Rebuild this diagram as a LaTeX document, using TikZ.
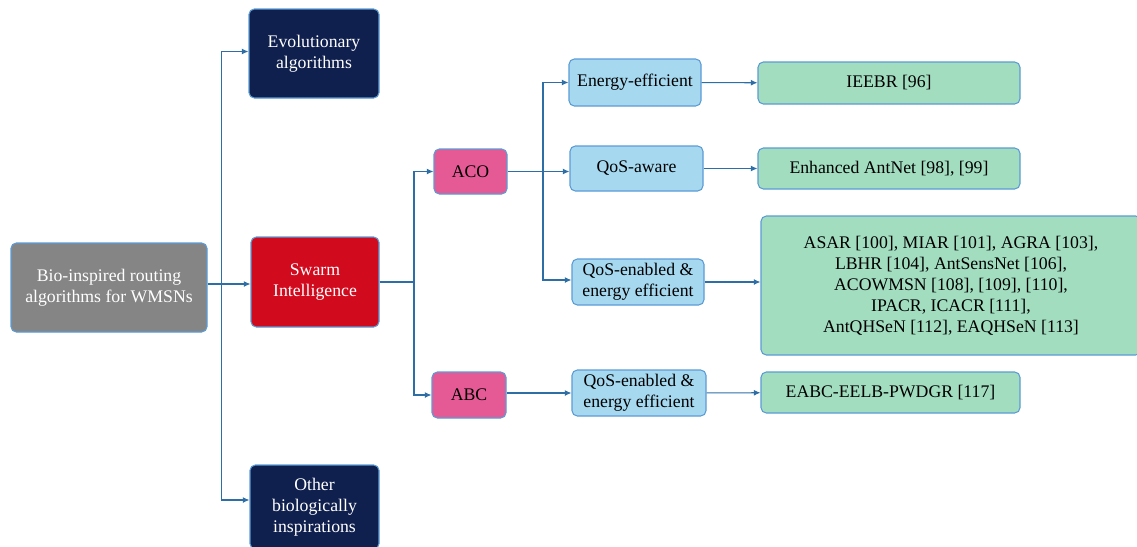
\documentclass[tikz,border=0pt]{standalone}
\usepackage{fontspec}
\setmainfont{Liberation Serif}
\newfontfamily\tnr{Liberation Serif}
\usepackage{tikz}
\usetikzlibrary{arrows.meta}

\definecolor{navy}{HTML}{10204E}
\definecolor{swarmred}{HTML}{D20A1E}
\definecolor{biogray}{HTML}{858585}
\definecolor{antpink}{HTML}{E55A95}
\definecolor{catblue}{HTML}{A6D9F0}
\definecolor{refgreen}{HTML}{A2DDC0}
\definecolor{rim}{HTML}{5B9BD5}
\definecolor{wire}{HTML}{2E6EA6}

\begin{document}
\begin{tikzpicture}[x=0.75pt,y=-0.75pt,line width=0.8pt] %% tikz
	\tikzstyle{box}=[draw=rim,line width=0.8pt,rounded corners=4pt,align=center,inner sep=0pt,font=\tnr\fontsize{13.3}{15.75}\selectfont];
	\tikzstyle{dark}=[box,text=white];
	\tikzstyle{light}=[box,text=black];
	\tikzstyle{wireline}=[draw=wire,line width=0.8pt];
	\tikzstyle{arr}=[wireline,-{Latex[length=5pt,width=4.5pt]}];
	\useasboundingbox (0,0) rectangle (1137,546);
	%% first level
	\node[dark,fill=biogray,minimum width=147pt,minimum height=66.75pt] (bio) at (109,287.5) {Bio-inspired routing\\algorithms for WMSNs};
	\node[dark,fill=navy,minimum width=97.5pt,minimum height=66.75pt] (evo) at (314,53.5) {Evolutionary\\algorithms};
	\node[dark,fill=swarmred,minimum width=96pt,minimum height=67.5pt] (swarm) at (315,282) {Swarm\\Intelligence};
	\node[dark,fill=navy,minimum width=96.75pt,minimum height=63pt] (other) at (314.5,507) {Other\\biologically\\inspirations};
	%% swarm families
	\node[light,fill=antpink,minimum width=54.75pt,minimum height=33.75pt] (aco) at (470.5,171.5) {ACO};
	\node[light,fill=antpink,minimum width=55.5pt,minimum height=34.5pt] (abc) at (469,395) {ABC};
	%% categories
	\node[light,fill=catblue,minimum width=99pt,minimum height=35.25pt] (energy) at (635,82.5) {Energy-efficient};
	\node[light,fill=catblue,minimum width=99.75pt,minimum height=33.75pt] (aware) at (636.5,168.5) {QoS-aware};
	\node[light,fill=catblue,minimum width=99pt,minimum height=34.5pt] (qosa) at (638,282) {QoS-enabled \&\\energy efficient};
	\node[light,fill=catblue,minimum width=100.5pt,minimum height=34.5pt] (qosb) at (639,393) {QoS-enabled \&\\energy efficient};
	%% protocols
	\node[light,fill=refgreen,minimum width=196.5pt,minimum height=31.5pt] (ieebr) at (889,83) {IEEBR [96]};
	\node[light,fill=refgreen,minimum width=196.5pt,minimum height=30.75pt] (antnet) at (889,168.5) {Enhanced AntNet [98], [99]};
	\node[light,fill=refgreen,minimum width=285pt,minimum height=104.25pt] (many) at (951,285.5) {ASAR [100], MIAR [101], AGRA [103],\\LBHR [104], AntSensNet [106],\\ACOWMSN [108], [109], [110],\\IPACR, ICACR [111],\\AntQHSeN [112], EAQHSeN [113]};
	\node[light,fill=refgreen,minimum width=194.25pt,minimum height=30.75pt] (eabc) at (890.5,392.5) {EABC-EELB-PWDGR [117]};
	%% connectors
	\coordinate (j1) at (221.5,284);
	\coordinate (j2) at (414,282);
	\coordinate (j3) at (543,171.5);
	\draw[arr] (bio.east |- j1) -- (swarm.west |- j1);
	\draw[arr] (j1) |- ([yshift=1.5pt]evo.west);
	\draw[arr] (j1) |- ([yshift=5.25pt]other.west);
	\draw[wireline] (swarm) -- (j2);
	\draw[arr] (j2) |- (aco);
	\draw[arr] (j2) |- (abc);
	\draw[arr] (aco.east) -- (aco.east -| aware.west);
	\draw[arr] (j3) |- (energy);
	\draw[arr] (j3) |- ([yshift=1.5pt]qosa.west);
	\draw[arr] (abc.east |- qosb) -- (qosb);
	\draw[arr] (energy) -- (ieebr);
	\draw[arr] (aware) -- (antnet);
	\draw[arr] (qosa.east) -- (qosa.east -| many.west);
	\draw[arr] (qosb) -- (eabc);
\end{tikzpicture}
\end{document}
